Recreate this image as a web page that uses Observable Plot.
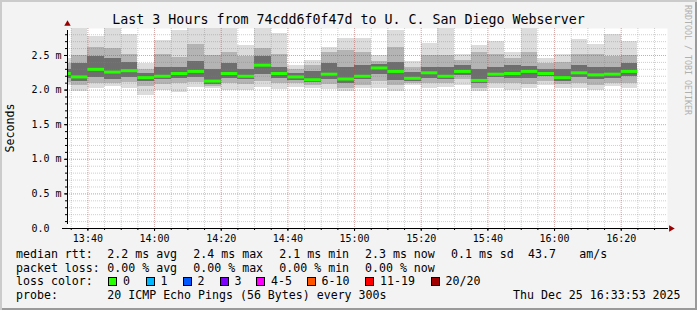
<!DOCTYPE html>
<html><head><meta charset="utf-8">
<script src="https://cdn.jsdelivr.net/npm/d3@7"></script>
<script src="https://cdn.jsdelivr.net/npm/@observablehq/plot@0.6"></script>
<style>
html,body{margin:0;padding:0;background:#f3f3f3;}
#chart{position:relative;width:697px;height:310px;background:#f3f3f3;box-shadow:inset 2px 2px 0 #cbcbcb, inset -2px -2px 0 #9a9a9a;overflow:hidden;font-family:"DejaVu Sans Mono",monospace;color:#000;}
.t{position:absolute;white-space:pre;line-height:normal;}
.box{position:absolute;width:7px;height:7px;border:1px solid #000;}
</style></head><body><div id="chart"></div>
<script>
// ---- data ----
const title = "Last 3 Hours from 74cdd6f0f47d to U. C. San Diego Webserver";
const barEnds = ["13:35","13:40","13:45","13:50","13:55","14:00","14:05","14:10","14:15","14:20","14:25","14:30","14:35","14:40","14:45","14:50","14:55","15:00","15:05","15:10","15:15","15:20","15:25","15:30","15:35","15:40","15:45","15:50","15:55","16:00","16:05","16:10","16:15","16:20","16:25"];
const pingMin = [2.07,1.98,2.03,2.05,2.02,1.92,2.00,1.97,2.04,2.02,2.00,1.99,2.04,2.01,2.04,2.02,2.01,1.98,2.02,2.03,1.98,2.06,2.03,2.04,2.06,1.98,2.03,2.00,2.02,2.07,2.03,2.02,1.99,2.05,2.02];
const pingQ10 = [2.11,2.06,2.10,2.10,2.11,2.05,2.08,2.09,2.11,2.05,2.09,2.08,2.13,2.10,2.09,2.07,2.08,2.03,2.07,2.12,2.06,2.09,2.09,2.09,2.15,2.03,2.10,2.10,2.08,2.13,2.08,2.10,2.06,2.10,2.10];
const pingQ25 = [2.17,2.12,2.18,2.16,2.18,2.12,2.15,2.17,2.18,2.08,2.17,2.15,2.22,2.17,2.14,2.11,2.16,2.10,2.15,2.22,2.14,2.13,2.17,2.15,2.21,2.09,2.18,2.17,2.17,2.19,2.12,2.18,2.15,2.17,2.20];
const pingMedian = [2.24,2.19,2.30,2.26,2.28,2.18,2.20,2.24,2.27,2.13,2.24,2.20,2.36,2.24,2.19,2.15,2.23,2.16,2.20,2.32,2.27,2.17,2.25,2.20,2.27,2.14,2.23,2.24,2.27,2.24,2.18,2.25,2.22,2.23,2.27];
const pingQ75 = [2.30,2.38,2.48,2.45,2.40,2.24,2.32,2.33,2.42,2.30,2.38,2.30,2.48,2.33,2.24,2.27,2.38,2.32,2.36,2.37,2.40,2.25,2.32,2.33,2.36,2.30,2.32,2.35,2.34,2.30,2.30,2.35,2.32,2.33,2.38];
const pingQ90 = [2.38,2.50,2.62,2.60,2.52,2.30,2.52,2.47,2.66,2.50,2.54,2.48,2.60,2.52,2.30,2.36,2.54,2.57,2.54,2.42,2.62,2.33,2.50,2.50,2.43,2.55,2.52,2.45,2.55,2.38,2.40,2.52,2.52,2.48,2.50];
const pingMax = [2.46,2.89,2.78,2.89,2.81,2.38,2.72,2.86,2.89,2.89,2.89,2.64,2.89,2.82,2.35,2.43,2.62,2.74,2.74,2.50,2.86,2.41,2.67,2.89,2.52,2.64,2.70,2.55,2.89,2.45,2.52,2.73,2.66,2.80,2.70];
const xTickLabels = ["13:40","14:00","14:20","14:40","15:00","15:20","15:40","16:00","16:20"];
const yTicks = [0, 0.5, 1.0, 1.5, 2.0, 2.5];
const yMax = 2.89;
const rttStats = ["2.2 ms avg","2.4 ms max","2.1 ms min","2.3 ms now","0.1 ms sd","43.7","am/s"];
const lossStats = ["0.00 % avg","0.00 % max","0.00 % min","0.00 % now"];
const lossLabels = ["0","1","2","3","4-5","6-10","11-19","20/20"];
const lossColors = ["#26ff00","#00b8ff","#0059ff","#7e00ff","#ff00ff","#ff5500","#ff0000","#a10000"];
const probeText = "20 ICMP Echo Pings (56 Bytes) every 300s";
const stamp = "Thu Dec 25 16:33:53 2025";

// ---- build ----
const at = (hm, s = 0) => { const [h, m] = hm.split(":").map(Number); return new Date(Date.UTC(2025, 11, 25, h, m, s)); };
const start = at("13:33", 53), end = at("16:33", 53);
const step = 5 * 60 * 1000;
const bars = barEnds.map((t, i) => {
  const e = at(t);
  return {x1: new Date(Math.max(+e - step, +start)), x2: e,
    min: pingMin[i], q10: pingQ10[i], q25: pingQ25[i], med: pingMedian[i],
    q75: pingQ75[i], q90: pingQ90[i], max: pingMax[i]};
});
const xMajor = xTickLabels.map(t => at(t));
const xMinor = d3.utcMinute.every(5).range(start, end);
const yMinor = d3.range(1, 29).map(d => d / 10);

const chart = document.getElementById("chart");
function addText(txt, x, baseline, size, extra = {}) {
  const d = document.createElement("div");
  d.className = "t";
  d.textContent = txt;
  d.style.fontSize = size + "px";
  d.style.left = x + "px";
  d.style.top = (baseline - 0.928 * size) + "px";
  Object.assign(d.style, extra);
  chart.appendChild(d);
  return d;
}

const plot = Plot.plot({
  width: 697, height: 222,
  marginLeft: 67, marginRight: 30, marginTop: 4, marginBottom: 18,
  x: {type: "utc", domain: [start, end]},
  y: {domain: [0, yMax]},
  style: {background: "transparent", overflow: "visible", fontFamily: "DejaVu Sans Mono", fontSize: "10px", color: "#000"},
  marks: [
    Plot.frame({fill: "white", stroke: null}),
    Plot.rect(bars, {x1: "x1", x2: "x2", y1: "min", y2: "max", fill: "#dcdcdc", shapeRendering: "crispEdges"}),
    Plot.rect(bars, {x1: "x1", x2: "x2", y1: "q10", y2: "q90", fill: "#b4b4b4", shapeRendering: "crispEdges"}),
    Plot.rect(bars, {x1: "x1", x2: "x2", y1: "q25", y2: "q75", fill: "#6e6e6e", shapeRendering: "crispEdges"}),
    Plot.gridX(xMinor, {stroke: "#808080", strokeOpacity: 0.38, strokeDasharray: "1,1"}),
    Plot.gridY(yMinor, {stroke: "#808080", strokeOpacity: 0.38, strokeDasharray: "1,1"}),
    Plot.gridX(xMajor, {stroke: "#f00000", strokeOpacity: 0.2, strokeDasharray: "1,1"}),
    Plot.gridY(yTicks.slice(1), {stroke: "#f00000", strokeOpacity: 0.2, strokeDasharray: "1,1"}),
    Plot.ruleY(bars, {x1: "x1", x2: "x2", y: "med", stroke: "#26ff00", strokeWidth: 3}),
    Plot.ruleY([0], {stroke: "#000", insetLeft: -5, insetRight: -1}),
    Plot.ruleX([start], {y1: 0, y2: yMax, stroke: "#000", insetTop: -4, insetBottom: -2}),
    Plot.dot([{x: end, y: 0}], {x: "x", y: "y", symbol: "triangle", rotate: 90, r: 2.4, fill: "#990000", stroke: null, dx: 3.5}),
    Plot.dot([{x: start, y: yMax}], {x: "x", y: "y", symbol: "triangle", r: 2.4, fill: "#990000", stroke: null, dy: -4.5}),
    Plot.axisX(xMinor, {tickSize: 2, tickFormat: () => ""}),
    Plot.axisX(xMajor, {tickSize: 3, tickPadding: 3, tickFormat: d3.utcFormat("%H:%M")}),
    Plot.axisY(yMinor, {tickSize: 2, tickFormat: () => ""}),
    Plot.axisY(yTicks, {tickSize: 3, tickPadding: 33, textAnchor: "start", tickFormat: d => d === 0 ? "0.0" : d3.format(".1f")(d) + " m"})
  ]
});
plot.style.position = "absolute";
plot.style.left = "0px";
plot.style.top = "24px";
chart.appendChild(plot);

// title
addText(title, 0, 24, 13.3, {width: "697px", textAlign: "center"});
// axis title
addText("Seconds", 11, 128, 11.6, {transform: "translate(-50%,-50%) rotate(-90deg)", lineHeight: "1", top: "128px"});
// watermark
addText("RRDTOOL / TOBI OETIKER", 688, 60, 8.3, {transform: "translate(-50%,-50%) rotate(90deg)", lineHeight: "1", top: "60px", color: "#b0b0b0"});

// legend
const base = [257.7, 271.3, 284.9, 298.5];
const fs = 11.6;
addText("median rtt:", 16, base[0], fs);
[107.3, 193.3, 279.3, 365, 451, 528, 579.3].forEach((x, i) => addText(rttStats[i], x, base[0], fs));
addText("packet loss:", 16, base[1], fs);
[107.3, 193.3, 279.3, 365].forEach((x, i) => addText(lossStats[i], x, base[1], fs));
addText("loss color:", 16, base[2], fs);
[108, 145.5, 182.5, 219.5, 256, 306.5, 365, 430.5].forEach((x, i) => {
  const b = document.createElement("div");
  b.className = "box";
  b.style.left = x + "px";
  b.style.top = (base[2] - 7.5) + "px";
  b.style.background = lossColors[i];
  chart.appendChild(b);
  addText(lossLabels[i], x + 15, base[2], fs);
});
addText("probe:", 16, base[3], fs);
addText(probeText, 107.3, base[3], fs);
addText(stamp, 513, base[3], fs);
</script>
</body></html>
